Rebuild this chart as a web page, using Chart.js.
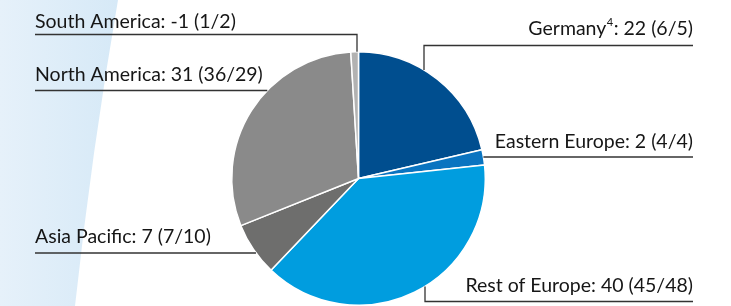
<!DOCTYPE html>
<html>
	<head>
		<title>Regions</title>
		<meta charset="UTF-8">
		<script src="https://cdn.jsdelivr.net/npm/chart.js@4/dist/chart.umd.min.js"></script>
		<style>
			body { margin: 0; background: #fff; }
		</style>
	</head>
	<body>
		<canvas id="chart" width="731" height="306"></canvas>

		<script>
			// regions, current value and the two previous years (in brackets)
			const regions = ["Germany", "Eastern Europe", "Rest of Europe", "Asia Pacific", "North America", "South America"]
			const values = [22, 2, 40, 7, 31, -1]
			const prevA = [6, 4, 45, 7, 36, 1]
			const prevB = [5, 4, 48, 10, 29, 2]
			const footnotes = ["4", "", "", "", "", ""]
			const colors = ["#004e8f", "#0a74c0", "#009ddf", "#6e6e6d", "#8a8a8a", "#b2b2b2"]

			// where the callout texts sit (side, baseline, line y, bend x)
			const callouts = [
				{ side: "right", base: 35, lineY: 45.5, bendX: 424 },
				{ side: "right", base: 148, lineY: 157 },
				{ side: "right", base: 292, lineY: 301.5, bendX: 425 },
				{ side: "left", base: 243, lineY: 253 },
				{ side: "left", base: 81, lineY: 90.5 },
				{ side: "left", base: 28, lineY: 34.5, bendX: 357 }
			]
			const leftX = 35, rightX = 693
			const font = "19.5px Lato", smallFont = "11px Lato"

			const background = {
				id: "background",
				beforeDraw(chart){
					const ctx = chart.ctx
					ctx.save()
					let g = ctx.createLinearGradient(0, 0, 118, 0)
					g.addColorStop(0, "#e6f1fa")
					g.addColorStop(1, "#d6e9f7")
					ctx.fillStyle = g
					ctx.beginPath()
					ctx.moveTo(0, 0)
					ctx.lineTo(118, 0)
					ctx.quadraticCurveTo(92, 150, 75, 306)
					ctx.lineTo(0, 306)
					ctx.closePath()
					ctx.fill()
					ctx.restore()
				}
			}

			const labels = {
				id: "labels",
				afterDraw(chart){
					const ctx = chart.ctx
					const arc = chart.getDatasetMeta(0).data[0]
					const cx = arc.x, cy = arc.y, r = arc.outerRadius
					ctx.save()
					ctx.strokeStyle = "#333"
					ctx.lineWidth = 1.3
					ctx.fillStyle = "#161616"
					ctx.textBaseline = "alphabetic"
					ctx.textAlign = "left"
					callouts.forEach((c, i) => {
						let main = regions[i]
						let rest = ": " + values[i] + " (" + prevA[i] + "/" + prevB[i] + ")"
						ctx.font = font
						let w1 = ctx.measureText(main).width
						let w3 = ctx.measureText(rest).width
						ctx.font = smallFont
						let w2 = footnotes[i] ? ctx.measureText(footnotes[i]).width + 1 : 0
						let x0 = c.side == "left" ? leftX : rightX - (w1 + w2 + w3)
						ctx.font = font
						ctx.fillText(main, x0, c.base)
						if(footnotes[i]){
							ctx.font = smallFont
							ctx.fillText(footnotes[i], x0 + w1 + 0.5, c.base - 9)
							ctx.font = font
						}
						ctx.fillText(rest, x0 + w1 + w2, c.base)

						// leader line
						ctx.beginPath()
						let start = c.side == "left" ? leftX : rightX
						ctx.moveTo(start, c.lineY)
						if(c.bendX !== undefined){
							let dx = c.bendX - cx
							let h = Math.sqrt(Math.max(r*r - dx*dx, 0))
							let yEnd = c.lineY < cy ? cy - h : cy + h
							ctx.lineTo(c.bendX, c.lineY)
							ctx.lineTo(c.bendX, yEnd)
						} else {
							let dy = c.lineY - cy
							let h = Math.sqrt(Math.max(r*r - dy*dy, 0))
							ctx.lineTo(c.side == "left" ? cx - h : cx + h, c.lineY)
						}
						ctx.stroke()
					})
					ctx.restore()
				}
			}

			new Chart(document.getElementById("chart"), {
				type: "pie",
				data: {
					labels: regions,
					datasets: [{
						data: values.map(v => Math.abs(v)),
						backgroundColor: colors,
						borderColor: "#ffffff",
						borderWidth: 1.5
					}]
				},
				options: {
					responsive: false,
					animation: false,
					layout: { padding: { top: 51, bottom: -2, left: 230, right: 244 } },
					plugins: {
						legend: { display: false },
						tooltip: { enabled: false }
					}
				},
				plugins: [background, labels]
			})
		</script>
	</body>
</html>
